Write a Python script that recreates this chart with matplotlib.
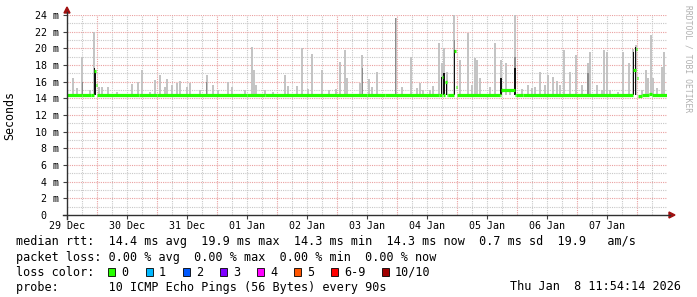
import matplotlib
matplotlib.use('Agg')
import matplotlib.pyplot as plt
import numpy as np
from matplotlib.patches import Polygon, Rectangle

# days since 29 Dec 00:00 (light smoke spikes and their tops in ms)
smoke_day = [0.105, 0.167, 0.255, 0.383, 0.455, 0.533, 0.578, 0.683, 0.828, 1.078,
             1.188, 1.245, 1.383, 1.467, 1.55, 1.633, 1.66, 1.745, 1.828, 1.883,
             1.995, 2.05, 2.217, 2.328, 2.438, 2.522, 2.678, 2.745, 2.967, 3.078,
             3.117, 3.145, 3.3, 3.438, 3.633, 3.688, 3.828, 3.922, 4.022, 4.078,
             4.255, 4.372, 4.478, 4.555, 4.633, 4.672, 4.883, 4.922, 5.033, 5.078,
             5.162, 5.478, 5.588, 5.728, 5.828, 5.883, 5.938, 6.05, 6.105, 6.2,
             6.245, 6.283, 6.328, 6.455, 6.55, 6.678, 6.745, 6.8, 6.828, 6.883,
             7.05, 7.133, 7.233, 7.312, 7.383, 7.467, 7.578, 7.678, 7.745, 7.8,
             7.883, 7.967, 8.022, 8.105, 8.162, 8.217, 8.288, 8.383, 8.478, 8.578,
             8.688, 8.717, 8.828, 8.912, 8.955, 8.995, 9.05, 9.188, 9.272, 9.367,
             9.438, 9.478, 9.578, 9.65, 9.688, 9.733, 9.772, 9.828, 9.912, 9.95]
smoke_top = [16.4, 15.2, 19.0, 15.0, 22.0, 15.4, 15.4, 15.4, 14.8, 15.7,
             16.0, 17.4, 14.8, 16.2, 16.8, 15.4, 16.3, 15.6, 15.8, 16.1,
             15.4, 15.8, 15.0, 16.8, 15.6, 15.0, 16.0, 15.4, 15.0, 20.2,
             17.4, 15.6, 15.0, 14.8, 16.8, 15.5, 15.5, 20.0, 15.1, 19.3,
             17.4, 15.0, 15.1, 18.3, 19.8, 16.4, 15.8, 19.2, 16.3, 15.4,
             17.2, 23.6, 15.4, 19.0, 15.2, 15.8, 15.0, 15.0, 15.5, 20.6,
             18.2, 20.0, 17.2, 24.0, 18.6, 21.8, 15.6, 18.8, 18.6, 16.4,
             15.4, 20.6, 18.6, 18.2, 15.0, 24.0, 15.1, 15.6, 15.2, 15.4,
             17.2, 15.6, 16.8, 16.6, 16.1, 15.6, 19.8, 17.2, 19.2, 15.6,
             18.2, 19.6, 15.6, 15.0, 19.8, 19.6, 15.0, 14.8, 19.5, 18.2,
             19.9, 20.4, 15.0, 17.4, 16.4, 21.6, 16.4, 15.2, 17.8, 19.5]

# darker smoke near the median
mid_day = [0.255, 2.328, 4.922, 5.478, 6.455, 7.467, 8.688]
mid_top = [16.0, 16.0, 17.6, 23.6, 21.0, 19.0, 17.0]

# dense (black) smoke
dark_day = [0.455, 0.47, 6.245, 6.283, 6.328, 6.455, 7.233, 7.467, 9.438, 9.478]
dark_top = [17.6, 17.0, 16.5, 17.0, 16.0, 19.8, 16.4, 17.6, 19.6, 20.2]

# median rtt, piecewise constant (start day, end day, ms)
med_start = [0.0, 0.25, 0.4, 0.455, 0.475, 0.5, 1.2, 1.5, 3.0, 3.3, 5.0, 5.3,
             6.2, 6.245, 6.265, 6.3, 6.328, 6.35, 6.455, 6.478, 6.5, 7.217, 7.24,
             7.467, 7.49, 7.6, 9.43, 9.438, 9.478, 9.495, 9.52, 9.58, 9.7, 9.75]
med_end = [0.25, 0.4, 0.455, 0.475, 0.5, 1.2, 1.5, 3.0, 3.3, 5.0, 5.3, 6.2,
           6.245, 6.265, 6.3, 6.328, 6.35, 6.455, 6.478, 6.5, 7.217, 7.24, 7.467,
           7.49, 7.6, 9.43, 9.438, 9.478, 9.495, 9.52, 9.58, 9.7, 9.75, 10.0]
med_ms = [14.4, 14.45, 14.4, 17.3, 15.6, 14.4, 14.45, 14.4, 14.45, 14.4, 14.45, 14.4,
          14.4, 16.6, 14.4, 15.9, 14.4, 14.4, 19.7, 15.3, 14.4, 14.4, 15.0,
          14.4, 14.45, 14.4, 14.4, 17.4, 19.9, 16.4, 14.3, 14.45, 14.55, 14.45]

day_labels = ['29 Dec', '30 Dec', '31 Dec', '01 Jan', '02 Jan',
              '03 Jan', '04 Jan', '05 Jan', '06 Jan', '07 Jan']
loss_labels = ['0', '1', '2', '3', '4', '5', '6-9', '10/10']
loss_colors = ['#26ff00', '#00b8ff', '#0059ff', '#7e00ff', '#ff00ff',
               '#ff5500', '#ff0000', '#a10000']

W, H = 697, 297
fig = plt.figure(figsize=(W / 100, H / 100), dpi=100)
fig.patch.set_facecolor('white')
ax = fig.add_axes([67 / W, 82 / H, 600 / W, 200 / H])
ax.set_xlim(0, 10)
ax.set_ylim(0, 24)
for s in ax.spines.values():
    s.set_visible(False)

mono = 'DejaVu Sans Mono'
dot = (0, (1, 1))
# grid
for q in np.arange(0.25, 10, 0.25):
    if abs(q % 1 - 0.5) > 1e-6:
        ax.axvline(q, color='#c8c8c8', lw=0.8, ls=dot, zorder=0)
for q in np.arange(0.5, 10, 1):
    ax.axvline(q, color='#eaa0a0', lw=0.8, ls=dot, zorder=0)
for v in range(1, 25):
    ax.axhline(v, color='#eaa0a0' if v % 2 == 0 else '#c8c8c8', lw=0.8, ls=dot, zorder=0)

bw = 2.0 / 60
ax.bar(smoke_day, np.array(smoke_top) - 14.4, bottom=14.4, width=bw,
       color='#c4c4c4', lw=0, zorder=2)
ax.bar(mid_day, np.array(mid_top) - 14.4, bottom=14.4, width=1.6 / 60,
       color='#8c8c8c', lw=0, zorder=3)
ax.bar(dark_day, np.array(dark_top) - 14.4, bottom=14.4, width=1.4 / 60,
       color='#101010', lw=0, zorder=4)
ax.hlines(med_ms, med_start, med_end, color='#26ff00', lw=2.3, zorder=5)

ax.set_yticks(range(0, 25, 2))
ax.set_yticklabels(['0  '] + ['%d m' % v for v in range(2, 25, 2)],
                   fontfamily=mono, fontsize=7.2)
ax.set_xticks(range(10))
ax.set_xticklabels(day_labels, fontfamily=mono, fontsize=7.2)
ax.tick_params(axis='y', length=3, width=0.8, color='#404040', pad=3)
ax.tick_params(axis='x', length=3, width=0.8, color='#404040', pad=1)

# axes with arrows
fig.add_artist(plt.Line2D([67 / W, 67 / W], [1 - 219 / H, 1 - 12 / H], color='#303030', lw=1))
fig.add_artist(plt.Line2D([63 / W, 670 / W], [1 - 215 / H, 1 - 215 / H], color='#303030', lw=1))
fig.add_artist(Polygon([[64 / W, 1 - 13 / H], [70 / W, 1 - 13 / H], [67 / W, 1 - 7 / H]],
                       closed=True, color='#a01010', transform=fig.transFigure))
fig.add_artist(Polygon([[669 / W, 1 - 212 / H], [669 / W, 1 - 218 / H], [675 / W, 1 - 215 / H]],
                       closed=True, color='#a01010', transform=fig.transFigure))

fig.text(10 / W, 1 - 115 / H, 'Seconds', rotation=90, ha='center', va='center',
         fontfamily=mono, fontsize=8.4)
fig.text(688 / W, 1 - 5 / H, 'RRDTOOL / TOBI OETIKER', rotation=-90, ha='center', va='top',
         fontfamily=mono, fontsize=5.8, color='#b0b0b0')

fs = 8.5
fig.text(16 / W, 1 - 241 / H,
         'median rtt:  14.4 ms avg  19.9 ms max  14.3 ms min  14.3 ms now  0.7 ms sd  19.9   am/s',
         fontfamily=mono, fontsize=fs, va='center')
fig.text(16 / W, 1 - 257 / H, 'packet loss: 0.00 % avg  0.00 % max  0.00 % min  0.00 % now',
         fontfamily=mono, fontsize=fs, va='center')
fig.text(16 / W, 1 - 272 / H, 'loss color:', fontfamily=mono, fontsize=fs, va='center')
sq_x = [108, 146, 183, 220, 257, 294, 331, 382]
for x0, lab, col in zip(sq_x, loss_labels, loss_colors):
    fig.add_artist(Rectangle((x0 / W, 1 - 276 / H), 7 / W, 8 / H, facecolor=col,
                             edgecolor='black', lw=0.6, transform=fig.transFigure))
    fig.text((x0 + 13) / W, 1 - 272 / H, lab, fontfamily=mono, fontsize=fs, va='center')
fig.text(16 / W, 1 - 287 / H, 'probe:       10 ICMP Echo Pings (56 Bytes) every 90s',
         fontfamily=mono, fontsize=fs, va='center')
fig.text(681 / W, 1 - 287 / H, 'Thu Jan  8 11:54:14 2026', fontfamily=mono, fontsize=fs,
         va='center', ha='right')

fig.savefig('out.png', dpi=100)
